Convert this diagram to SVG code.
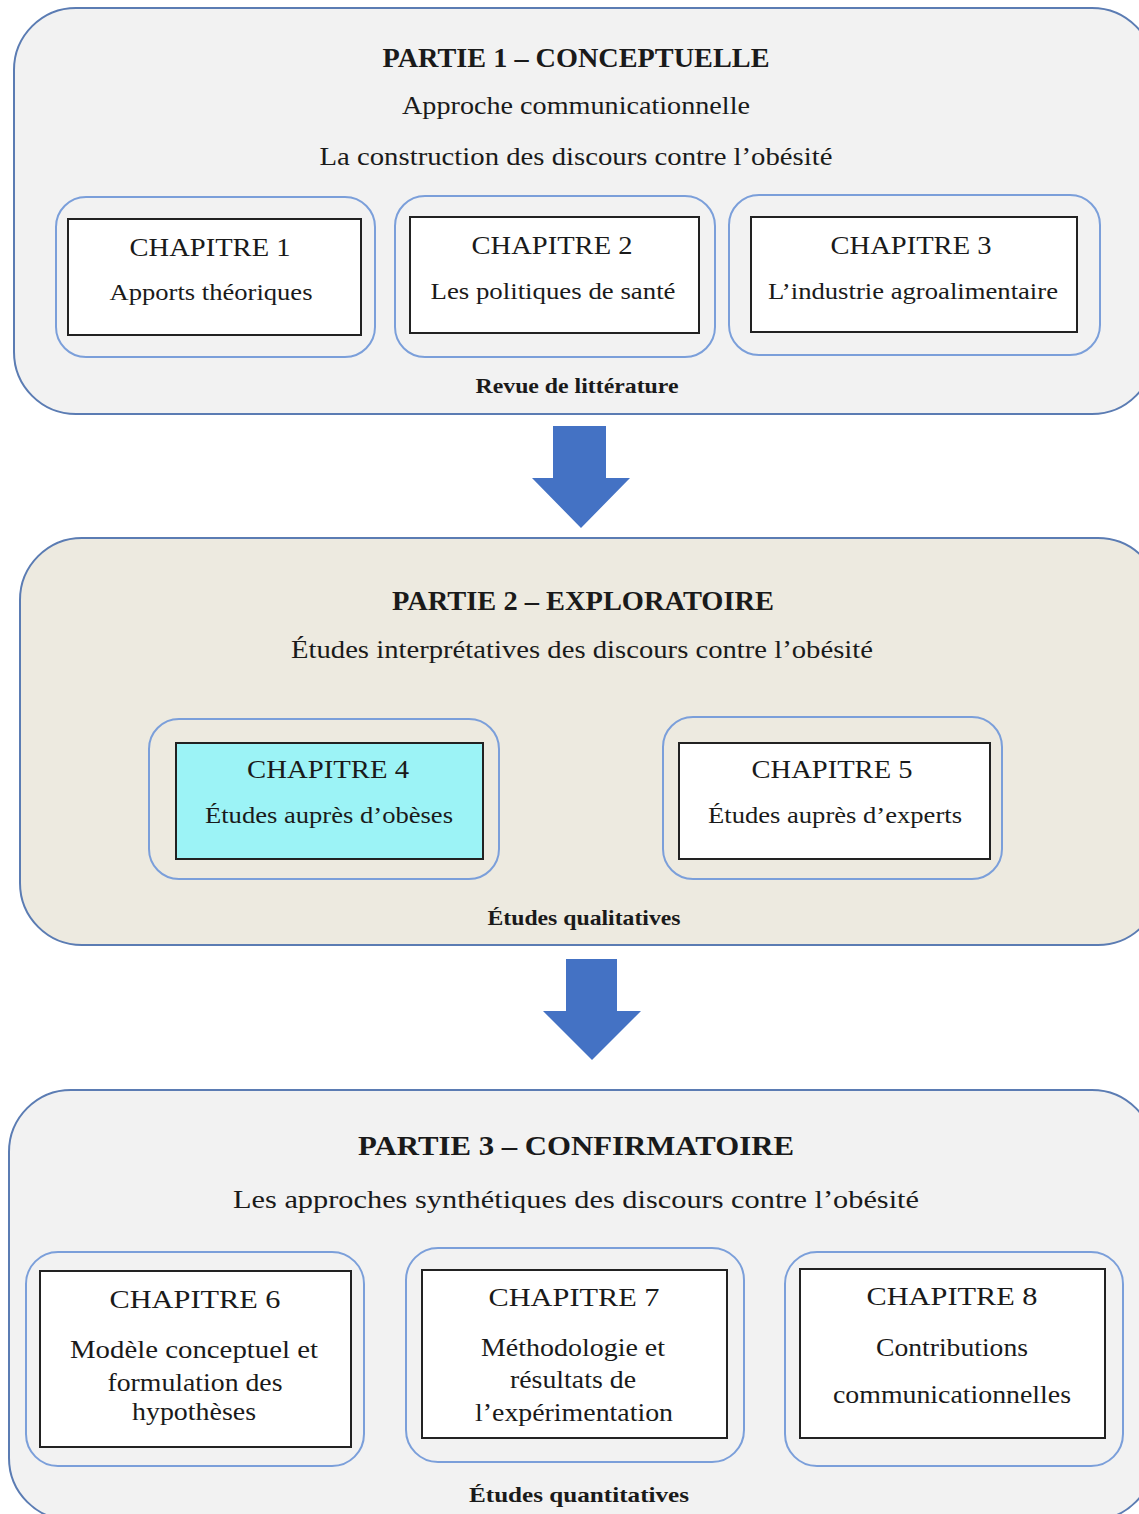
<svg xmlns="http://www.w3.org/2000/svg" width="1139" height="1514" viewBox="0 0 1139 1514">
<style>
.part{stroke:#5B7CB3;stroke-width:2}
.p1{fill:#F2F2F2}.p2{fill:#EDEAE0}.p3{fill:#F2F2F2}
.frame{fill:none;stroke:#7B9FDA;stroke-width:2}
.box{fill:#FFFFFF;stroke:#222;stroke-width:2}
.hl{fill:#9CF3F6}
text{font-family:"Liberation Serif","Times New Roman",serif;fill:#1A1A1A;text-anchor:middle}
.h{font-weight:bold;font-size:28px}
.s{font-size:26px}
.f{font-weight:bold;font-size:21px}
.c{font-size:26px}
.t{font-size:23px}
.t3{font-size:25px}
.arrow{fill:#4472C4}
</style>
<rect width="1139" height="1514" fill="#FFFFFF"/>

<g id="partie1">
<rect class="part p1" x="14" y="8" width="1140" height="406" rx="62"/>
<text class="h" x="576" y="67" textLength="387" lengthAdjust="spacingAndGlyphs">PARTIE  1 – CONCEPTUELLE</text>
<text class="s" x="576" y="114" textLength="348" lengthAdjust="spacingAndGlyphs">Approche communicationnelle</text>
<text class="s" x="576" y="165" textLength="513" lengthAdjust="spacingAndGlyphs">La construction des discours contre l’obésité</text>
<text class="f" x="577" y="393" textLength="203" lengthAdjust="spacingAndGlyphs">Revue de littérature</text>
</g>

<g id="chapitre1">
<rect class="frame" x="56" y="197" width="319" height="160" rx="30"/>
<rect class="box" x="68" y="219" width="293" height="116"/>
<text class="c" x="210" y="256" textLength="161" lengthAdjust="spacingAndGlyphs">CHAPITRE  1</text>
<text class="t" x="211" y="300" textLength="203" lengthAdjust="spacingAndGlyphs">Apports théoriques</text>
</g>

<g id="chapitre2">
<rect class="frame" x="395" y="196" width="320" height="161" rx="30"/>
<rect class="box" x="410" y="217" width="289" height="116"/>
<text class="c" x="552" y="254" textLength="161" lengthAdjust="spacingAndGlyphs">CHAPITRE  2</text>
<text class="t" x="553" y="299" textLength="245" lengthAdjust="spacingAndGlyphs">Les politiques de santé</text>
</g>

<g id="chapitre3">
<rect class="frame" x="729" y="195" width="371" height="160" rx="30"/>
<rect class="box" x="751" y="217" width="326" height="115"/>
<text class="c" x="911" y="254" textLength="161" lengthAdjust="spacingAndGlyphs">CHAPITRE  3</text>
<text class="t" x="913" y="299" textLength="290" lengthAdjust="spacingAndGlyphs">L’industrie agroalimentaire</text>
</g>

<g id="partie2">
<rect class="part p2" x="20" y="538" width="1140" height="407" rx="62"/>
<text class="h" x="583" y="610" textLength="382" lengthAdjust="spacingAndGlyphs">PARTIE  2 – EXPLORATOIRE</text>
<text class="s" x="582" y="658" textLength="582" lengthAdjust="spacingAndGlyphs">Études interprétatives des discours contre l’obésité</text>
<text class="f" x="584" y="925" textLength="193" lengthAdjust="spacingAndGlyphs">Études qualitatives</text>
</g>

<g id="chapitre4">
<rect class="frame" x="149" y="719" width="350" height="160" rx="30"/>
<rect class="box hl" x="176" y="743" width="307" height="116"/>
<text class="c" x="328" y="778" textLength="162" lengthAdjust="spacingAndGlyphs">CHAPITRE  4</text>
<text class="t" x="329" y="823" textLength="248" lengthAdjust="spacingAndGlyphs">Études auprès d’obèses</text>
</g>

<g id="chapitre5">
<rect class="frame" x="663" y="717" width="339" height="162" rx="30"/>
<rect class="box" x="679" y="743" width="311" height="116"/>
<text class="c" x="832" y="778" textLength="161" lengthAdjust="spacingAndGlyphs">CHAPITRE  5</text>
<text class="t" x="835" y="823" textLength="254" lengthAdjust="spacingAndGlyphs">Études auprès d’experts</text>
</g>

<g id="partie3">
<rect class="part p3" x="9" y="1090" width="1145" height="430" rx="62"/>
<text class="h" x="576" y="1155" textLength="436" lengthAdjust="spacingAndGlyphs">PARTIE 3 – CONFIRMATOIRE</text>
<text class="s" x="576" y="1208" textLength="686" lengthAdjust="spacingAndGlyphs">Les approches synthétiques des discours contre l’obésité</text>
<text class="f" x="579" y="1502" textLength="220" lengthAdjust="spacingAndGlyphs">Études quantitatives</text>
</g>

<g id="chapitre6">
<rect class="frame" x="26" y="1252" width="338" height="214" rx="32"/>
<rect class="box" x="40" y="1271" width="311" height="176"/>
<text class="c" x="195" y="1308" textLength="171" lengthAdjust="spacingAndGlyphs">CHAPITRE 6</text>
<text class="t3" x="194" y="1358" textLength="248" lengthAdjust="spacingAndGlyphs">Modèle conceptuel  et</text>
<text class="t3" x="195" y="1391" textLength="175" lengthAdjust="spacingAndGlyphs">formulation des</text>
<text class="t3" x="194" y="1420" textLength="124" lengthAdjust="spacingAndGlyphs">hypothèses</text>
</g>

<g id="chapitre7">
<rect class="frame" x="406" y="1248" width="338" height="214" rx="32"/>
<rect class="box" x="422" y="1270" width="305" height="168"/>
<text class="c" x="574" y="1306" textLength="171" lengthAdjust="spacingAndGlyphs">CHAPITRE 7</text>
<text class="t3" x="573" y="1356" textLength="184" lengthAdjust="spacingAndGlyphs">Méthodologie et</text>
<text class="t3" x="573" y="1388" textLength="126" lengthAdjust="spacingAndGlyphs">résultats de</text>
<text class="t3" x="574" y="1421" textLength="198" lengthAdjust="spacingAndGlyphs">l’expérimentation</text>
</g>

<g id="chapitre8">
<rect class="frame" x="785" y="1252" width="338" height="214" rx="32"/>
<rect class="box" x="800" y="1269" width="305" height="169"/>
<text class="c" x="952" y="1305" textLength="171" lengthAdjust="spacingAndGlyphs">CHAPITRE 8</text>
<text class="t3" x="952" y="1356" textLength="152" lengthAdjust="spacingAndGlyphs">Contributions</text>
<text class="t3" x="952" y="1403" textLength="238" lengthAdjust="spacingAndGlyphs">communicationnelles</text>
</g>

<g id="connectors">
<polygon class="arrow" points="553,426 606,426 606,478 630,478 581,528 532,478 553,478"/>
<polygon class="arrow" points="566,959 617,959 617,1011 641,1011 592,1060 543,1011 566,1011"/>
</g>
</svg>
